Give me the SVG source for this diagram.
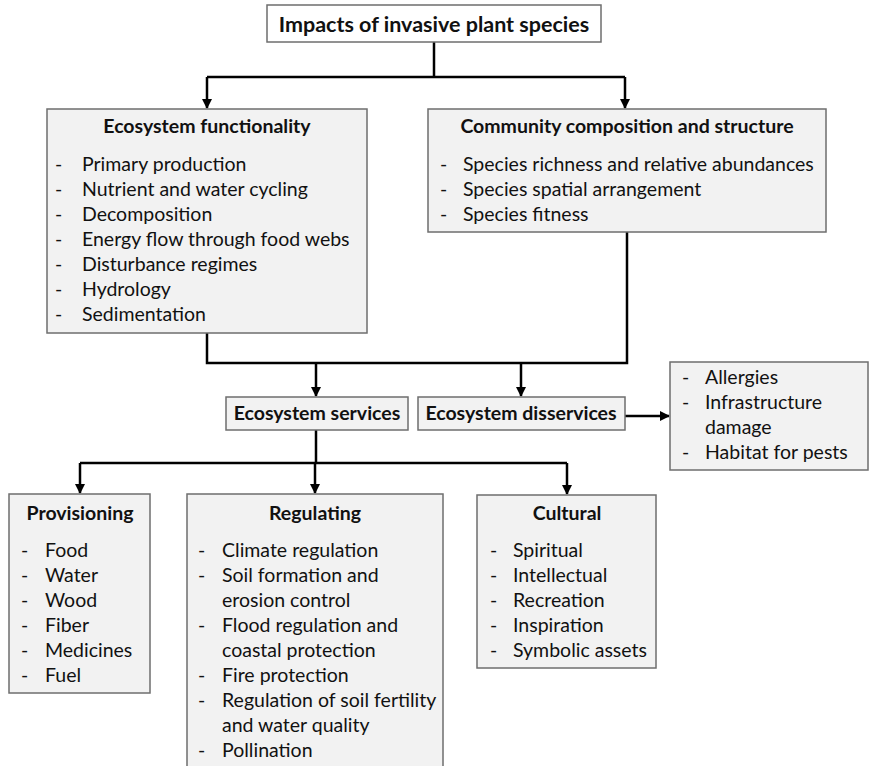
<svg xmlns="http://www.w3.org/2000/svg" width="870" height="766" viewBox="0 0 870 766">
  <defs>
    <marker id="arrow" viewBox="0 0 10 10" refX="9" refY="5" markerWidth="4" markerHeight="4" orient="auto" markerUnits="strokeWidth">
      <path d="M0,0 L10,5 L0,10 z" fill="#000"/>
    </marker>
  </defs>
  <style>
    .box { fill: #f2f2f2; stroke: #6e6e6e; stroke-width: 1.5; }
    .top { fill: #ffffff; stroke: #6e6e6e; stroke-width: 1.5; }
    .title { font-family: Lato, "Liberation Sans", sans-serif; font-weight: bold; font-size: 19.5px; fill: #111; text-anchor: middle; }
    .big { font-size: 21.5px; }
    .item { font-family: Lato, "Liberation Sans", sans-serif; font-size: 19.5px; fill: #111; }
    .wire { fill: none; stroke: #000; stroke-width: 2.5; }
    .arr { fill: none; stroke: #000; stroke-width: 2.5; marker-end: url(#arrow); }
  </style>

  <rect width="870" height="766" fill="#ffffff"/>

  <!-- connectors -->
  <g id="connectors">
    <path class="wire" d="M434,42 V77"/>
    <path class="wire" d="M207,77 H625"/>
    <path class="arr" d="M207,77 V108"/>
    <path class="arr" d="M625,77 V108"/>
    <path class="wire" d="M207,333 V363 H627 V232"/>
    <path class="arr" d="M316,363 V396"/>
    <path class="arr" d="M521,363 V396"/>
    <path class="arr" d="M625,416 H669"/>
    <path class="wire" d="M316,430 V463"/>
    <path class="wire" d="M80,463 H567"/>
    <path class="arr" d="M80,463 V493"/>
    <path class="arr" d="M315,463 V493"/>
    <path class="arr" d="M567,463 V494"/>
  </g>

  <g id="impacts">
    <rect class="top" x="267" y="5" width="334" height="37"/>
    <text class="title big" x="434" y="32">Impacts of invasive plant species</text>
  </g>

  <g id="functionality">
    <rect class="box" x="47" y="109" width="320" height="224"/>
    <text class="title" x="207" y="133">Ecosystem functionality</text>
    <g class="item">
      <text x="55" y="171">-</text><text x="82" y="171">Primary production</text>
      <text x="55" y="196">-</text><text x="82" y="196">Nutrient and water cycling</text>
      <text x="55" y="221">-</text><text x="82" y="221">Decomposition</text>
      <text x="55" y="246">-</text><text x="82" y="246">Energy flow through food webs</text>
      <text x="55" y="271">-</text><text x="82" y="271">Disturbance regimes</text>
      <text x="55" y="296">-</text><text x="82" y="296">Hydrology</text>
      <text x="55" y="321">-</text><text x="82" y="321">Sedimentation</text>
    </g>
  </g>

  <g id="community">
    <rect class="box" x="428" y="109" width="398" height="123"/>
    <text class="title" x="627" y="133">Community composition and structure</text>
    <g class="item">
      <text x="440" y="171">-</text><text x="463" y="171">Species richness and relative abundances</text>
      <text x="440" y="196">-</text><text x="463" y="196">Species spatial arrangement</text>
      <text x="440" y="221">-</text><text x="463" y="221">Species fitness</text>
    </g>
  </g>

  <g id="services">
    <rect class="box" x="226" y="397" width="182" height="33"/>
    <text class="title" x="317" y="420">Ecosystem services</text>
  </g>

  <g id="disservices">
    <rect class="box" x="418" y="397" width="207" height="33"/>
    <text class="title" x="521" y="420">Ecosystem disservices</text>
  </g>

  <g id="disservice-list">
    <rect class="box" x="670" y="362" width="198" height="108"/>
    <g class="item">
      <text x="682" y="384">-</text><text x="705" y="384">Allergies</text>
      <text x="682" y="409">-</text><text x="705" y="409">Infrastructure</text>
      <text x="705" y="434">damage</text>
      <text x="682" y="459">-</text><text x="705" y="459">Habitat for pests</text>
    </g>
  </g>

  <g id="provisioning">
    <rect class="box" x="9" y="494" width="141" height="199"/>
    <text class="title" x="80" y="520">Provisioning</text>
    <g class="item">
      <text x="21" y="557">-</text><text x="45" y="557">Food</text>
      <text x="21" y="582">-</text><text x="45" y="582">Water</text>
      <text x="21" y="607">-</text><text x="45" y="607">Wood</text>
      <text x="21" y="632">-</text><text x="45" y="632">Fiber</text>
      <text x="21" y="657">-</text><text x="45" y="657">Medicines</text>
      <text x="21" y="682">-</text><text x="45" y="682">Fuel</text>
    </g>
  </g>

  <g id="regulating">
    <rect class="box" x="187" y="494" width="256" height="280"/>
    <text class="title" x="315" y="520">Regulating</text>
    <g class="item">
      <text x="198" y="557">-</text><text x="222" y="557">Climate regulation</text>
      <text x="198" y="582">-</text><text x="222" y="582">Soil formation and</text>
      <text x="222" y="607">erosion control</text>
      <text x="198" y="632">-</text><text x="222" y="632">Flood regulation and</text>
      <text x="222" y="657">coastal protection</text>
      <text x="198" y="682">-</text><text x="222" y="682">Fire protection</text>
      <text x="198" y="707">-</text><text x="222" y="707">Regulation of soil fertility</text>
      <text x="222" y="732">and water quality</text>
      <text x="198" y="757">-</text><text x="222" y="757">Pollination</text>
    </g>
  </g>

  <g id="cultural">
    <rect class="box" x="477" y="495" width="179" height="173"/>
    <text class="title" x="567" y="520">Cultural</text>
    <g class="item">
      <text x="490" y="557">-</text><text x="513" y="557">Spiritual</text>
      <text x="490" y="582">-</text><text x="513" y="582">Intellectual</text>
      <text x="490" y="607">-</text><text x="513" y="607">Recreation</text>
      <text x="490" y="632">-</text><text x="513" y="632">Inspiration</text>
      <text x="490" y="657">-</text><text x="513" y="657">Symbolic assets</text>
    </g>
  </g>
</svg>
